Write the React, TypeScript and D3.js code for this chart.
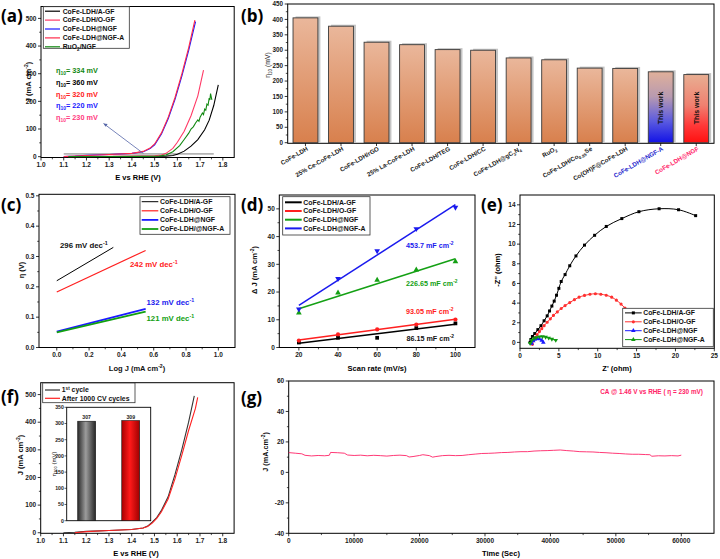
import React from 'react';
import * as d3 from 'd3';

const FONT = "'Liberation Sans', Arial, Helvetica, sans-serif";
const LFONT = "'Open Sans', 'Liberation Sans', sans-serif";

// ---------------- (a) LSV polarization ----------------
const aNames = ['CoFe-LDH/A-GF', 'CoFe-LDH/O-GF', 'CoFe-LDH@NGF', 'CoFe-LDH@NGF-A', 'RuO_{2}/NGF'];
const aColors = ['#000000', '#ff3a66', '#1a1aff', '#ff2a4a', '#118811'];
const aAGF = [[1.12, 0], [1.3, 0.5], [1.45, 1], [1.55, 2], [1.58, 4], [1.6, 9], [1.63, 20], [1.66, 38], [1.69, 62], [1.72, 97], [1.74, 132], [1.76, 185], [1.78, 260]];
const aOGF = [[1.12, 0], [1.3, 1], [1.45, 2], [1.5, 3], [1.53, 6], [1.55, 12], [1.58, 30], [1.6, 52], [1.63, 92], [1.66, 148], [1.69, 220], [1.715, 313]];
const aNGF = [[1.1, 0], [1.15, 2], [1.2, 5], [1.3, 8], [1.4, 12], [1.45, 18], [1.48, 29], [1.5, 43], [1.53, 82], [1.56, 138], [1.59, 208], [1.62, 292], [1.65, 385], [1.68, 488]];
const aNGFA = [[1.1, 0], [1.15, 2], [1.2, 4], [1.3, 8], [1.4, 12], [1.45, 19], [1.48, 31], [1.5, 46], [1.53, 86], [1.56, 143], [1.59, 215], [1.62, 300], [1.65, 395], [1.677, 494]];
const aRuO2 = [[1.12, 0], [1.3, 0.5], [1.45, 1], [1.52, 2], [1.55, 6], [1.58, 18], [1.61, 40], [1.63, 62], [1.65, 85], [1.66, 100], [1.67, 108], [1.68, 122], [1.69, 133], [1.695, 128], [1.7, 143], [1.71, 158], [1.715, 152], [1.72, 172], [1.725, 168], [1.73, 190], [1.735, 186], [1.74, 212], [1.743, 205], [1.746, 228], [1.75, 212], [1.752, 205]];
const aRefLine = [[1.1, 10], [1.76, 10]];
const aArrow = [[1.45, 12], [1.275, 120]];
const aEtaValues = ['334', '360', '320', '220', '230'];
const aEtaColors = ['#118811', '#000000', '#ff2020', '#1a1aff', '#ff3a80'];
const aXTicks = [1.0, 1.1, 1.2, 1.3, 1.4, 1.5, 1.6, 1.7, 1.8];
const aYTicks = [0, 100, 200, 300, 400, 500];

// ---------------- (b) comparison of overpotential ----------------
const bCats = ['CoFe-LDH', '25% Ce-CoFe-LDH', 'CoFe-LDH/rGO', '25% La-CoFe-LDH', 'CoFe-LDH/TEG', 'CoFe-LDH/CC', 'CoFe-LDH@gC_{3}N_{4}', 'RuO_{2}', 'CoFe-LDH/Co_{0.85}Se', 'Co(OH)F@CoFe-LDH', 'CoFe-LDH@NGF-A', 'CoFe-LDH@NGF'];
const bVals = [405, 378, 326, 318, 302, 300, 275, 269, 242, 241, 230, 221];
const bThisWork = [false, false, false, false, false, false, false, false, false, false, true, true];
const bYTicks = [0, 50, 100, 150, 200, 250, 300, 350, 400, 450];

// ---------------- (c) Tafel ----------------
const cNames = ['CoFe-LDH/A-GF', 'CoFe-LDH/O-GF', 'CoFe-LDH@NGF', 'CoFe-LDH/@NGF-A'];
const cColors = ['#000000', '#ff2020', '#1a1aff', '#11a011'];
const cAGF = [[0, 0.22], [0.35, 0.33]];
const cOGF = [[0, 0.183], [0.55, 0.32]];
const cNGF = [[0, 0.052], [0.55, 0.127]];
const cNGFA = [[0, 0.05], [0.55, 0.118]];
const cSlopes = ['296', '242', '132', '121'];
const cXTicks = [0.0, 0.2, 0.4, 0.6, 0.8, 1.0];
const cYTicks = [0.0, 0.1, 0.2, 0.3, 0.4, 0.5];

// ---------------- (d) double layer capacitance ----------------
const dNames = ['CoFe-LDH/A-GF', 'CoFe-LDH/O-GF', 'CoFe-LDH@NGF', 'CoFe-LDH@NGF-A'];
const dColors = ['#000000', '#ff2020', '#14a014', '#1a1aee'];
const dRates = [20, 40, 60, 80, 100];
const dAGF = [1.8, 3.5, 3.5, 7.0, 8.7];
const dOGF = [2.5, 4.7, 6.5, 8.3, 10.1];
const dNGF = [12.5, 19.7, 24.3, 28.0, 31.0];
const dNGFA = [13.8, 24.8, 34.8, 42.8, 50.5];
const dFitAGF = [[20, 1.5], [100, 8.4]];
const dFitOGF = [[20, 2.7], [100, 10.2]];
const dFitNGF = [[20, 14.0], [100, 32.0]];
const dFitNGFA = [[20, 15.2], [100, 51.5]];
const dCdl = ['86.15', '93.05', '226.65', '453.7'];
const dXTicks = [20, 40, 60, 80, 100];
const dYTicks = [0, 10, 20, 30, 40, 50];

// ---------------- (e) Nyquist ----------------
const eNames = ['CoFe-LDH/A-GF', 'CoFe-LDH/O-GF', 'CoFe-LDH@NGF', 'CoFe-LDH@NGF-A'];
const eColors = ['#000000', '#ff3030', '#1a1aff', '#119911'];
const eAGF = [[1.3, 0], [1.4, 0.3], [1.6, 0.6], [1.9, 0.9], [2.3, 1.3], [2.7, 1.7], [3.1, 2.2], [3.5, 2.7], [3.8, 3.2], [4.1, 3.7], [4.4, 4.2], [4.7, 4.8], [5.0, 5.5], [5.3, 6.2], [5.8, 6.9], [6.4, 7.8], [7.2, 8.8], [8.3, 9.9], [9.6, 10.9], [11.1, 11.8], [13.1, 12.6], [15.3, 13.3], [17.9, 13.6], [20.4, 13.5], [22.6, 12.9]];
const eOGF = [[1.6, -0.2], [1.75, 0.2], [1.95, 0.5], [2.2, 0.8], [2.5, 1.1], [2.8, 1.4], [3.1, 1.7], [3.5, 2.05], [3.9, 2.4], [4.3, 2.75], [4.8, 3.1], [5.3, 3.45], [5.8, 3.75], [6.4, 4.05], [7.0, 4.35], [7.6, 4.6], [8.3, 4.78], [9.0, 4.9], [9.7, 4.95], [10.4, 4.9], [11.1, 4.8], [11.8, 4.6], [12.4, 4.3], [13.0, 3.9], [13.5, 3.5], [14.0, 3.0]];
const eNGF = [[1.5, -0.1], [1.7, 0.15], [1.9, 0.3], [2.2, 0.38], [2.5, 0.35], [2.8, 0.2], [3.0, 0.0]];
const eNGFA = [[1.3, -0.1], [1.5, 0.2], [1.8, 0.4], [2.1, 0.5], [2.5, 0.58], [2.9, 0.6], [3.3, 0.55], [3.7, 0.45], [4.1, 0.33], [4.6, 0.22]];
const eXTicks = [0, 5, 10, 15, 20, 25];
const eYTicks = [0, 2, 4, 6, 8, 10, 12, 14];

// ---------------- (f) stability LSV ----------------
const fNames = ['1^{st} cycle', 'After 1000 CV cycles'];
const fColors = ['#333333', '#ff2020'];
const fFirst = [[1.1, 0], [1.15, 2], [1.2, 5], [1.3, 8], [1.4, 12], [1.45, 17], [1.47, 24], [1.49, 38], [1.51, 55], [1.53, 80], [1.56, 130], [1.59, 210], [1.62, 300], [1.65, 400], [1.675, 495]];
const fAfter = [[1.15, 0], [1.2, 4], [1.3, 8], [1.4, 12], [1.45, 17], [1.47, 23], [1.49, 35], [1.51, 52], [1.53, 75], [1.56, 122], [1.59, 195], [1.62, 280], [1.65, 370], [1.68, 450], [1.69, 490]];
const fInsetCats = ['1st', 'after'];
const fInsetVals = [307, 309];
const fXTicks = [1.0, 1.1, 1.2, 1.3, 1.4, 1.5, 1.6, 1.7, 1.8];
const fYTicks = [0, 100, 200, 300, 400, 500];
const fInsetYTicks = [0, 50, 100, 150, 200, 250, 300, 350];

// ---------------- (g) chronoamperometry ----------------
const gData = [[0, 13], [1000, 12.6], [2000, 12.2], [2500, 11.2], [3500, 10.8], [4500, 11.1], [5500, 10.9], [6200, 11.2], [6400, 13.1], [7500, 12.9], [8500, 12.6], [9000, 11.4], [10000, 11.1], [11000, 11.3], [12000, 10.9], [13000, 11.2], [14000, 11.0], [15000, 10.7], [16000, 11.1], [17000, 11.3], [18000, 11.0], [18400, 10.1], [19000, 10.4], [20000, 11.1], [20500, 11.6], [21500, 11.0], [22000, 10.0], [22500, 10.4], [23500, 11.0], [24500, 11.2], [25500, 11.0], [26500, 11.1], [27500, 11.6], [28500, 12.0], [29500, 12.4], [30500, 12.5], [31500, 12.7], [32500, 13.0], [33500, 13.1], [34500, 13.4], [35500, 13.6], [36500, 13.6], [37500, 14.0], [38500, 14.2], [39500, 14.3], [40500, 14.5], [41500, 14.7], [42500, 14.3], [43500, 14.0], [44500, 13.6], [45500, 13.5], [46500, 13.4], [47500, 13.1], [48500, 12.9], [49500, 12.6], [50500, 12.4], [51500, 12.1], [52500, 11.9], [53500, 11.9], [54500, 11.7], [55200, 11.6], [55500, 10.6], [56500, 10.9], [57500, 10.8], [58500, 11.0], [59500, 10.8], [60000, 11.3]];
const gXTicks = [0, 10000, 20000, 30000, 40000, 50000, 60000];
const gYTicks = [-40, -20, 0, 20, 40, 60];

// ---------------- helpers ----------------
function parseRich(s) {
  const parts = [];
  const re = /(_|\^)\{([^}]*)\}/g;
  let last = 0;
  let m;
  while ((m = re.exec(s))) {
    if (m.index > last) parts.push([s.slice(last, m.index), '']);
    parts.push([m[2], m[1] === '_' ? 'sub' : 'sup']);
    last = re.lastIndex;
  }
  if (last < s.length) parts.push([s.slice(last), '']);
  return parts;
}

function RT({ x, y, s, size = 7, anchor = 'start', fill = '#111', weight = 'bold', rotate = 0, family = FONT }) {
  const parts = parseRich(s);
  let shift = 0;
  const kids = parts.map(([t, k], i) => {
    const target = k === 'sup' ? -size * 0.38 : k === 'sub' ? size * 0.28 : 0;
    const dy = target - shift;
    shift = target;
    return (
      <tspan key={i} dy={dy} fontSize={k ? size * 0.68 : size}>
        {t}
      </tspan>
    );
  });
  return (
    <text x={x} y={y} fontSize={size} textAnchor={anchor} fill={fill} fontWeight={weight} fontFamily={family}
      transform={rotate ? `rotate(${rotate} ${x} ${y})` : undefined} style={{ whiteSpace: 'pre' }}>
      {kids}
    </text>
  );
}

const mids = (t) => t.slice(1).map((v, i) => (v + t[i]) / 2);

function Axes({ xs, ys, xt, yt, xf = (v) => String(v), yf = (v) => String(v), fs = 6.5, xMinor = true, yMinor = true, fill = 'none' }) {
  const [x0, x1] = xs.range();
  const [yb, ytp] = ys.range();
  const xm = xMinor ? mids(xt) : [];
  const ym = yMinor ? mids(yt) : [];
  return (
    <g>
      <rect x={x0} y={ytp} width={x1 - x0} height={yb - ytp} fill={fill} stroke="#000" strokeWidth={1} />
      {xt.map((t) => (
        <g key={'x' + t}>
          <line x1={xs(t)} x2={xs(t)} y1={yb} y2={yb + 3} stroke="#000" strokeWidth={0.8} />
          <text x={xs(t)} y={yb + 9.5} fontSize={fs} textAnchor="middle" fontWeight="bold" fill="#1a1a1a" fontFamily={FONT}>{xf(t)}</text>
        </g>
      ))}
      {xm.map((t) => (
        <line key={'xm' + t} x1={xs(t)} x2={xs(t)} y1={yb} y2={yb + 1.8} stroke="#000" strokeWidth={0.7} />
      ))}
      {yt.map((t) => (
        <g key={'y' + t}>
          <line x1={x0} x2={x0 - 3} y1={ys(t)} y2={ys(t)} stroke="#000" strokeWidth={0.8} />
          <text x={x0 - 4.5} y={ys(t) + fs * 0.35} fontSize={fs} textAnchor="end" fontWeight="bold" fill="#1a1a1a" fontFamily={FONT}>{yf(t)}</text>
        </g>
      ))}
      {ym.map((t) => (
        <line key={'ym' + t} x1={x0} x2={x0 - 1.8} y1={ys(t)} y2={ys(t)} stroke="#000" strokeWidth={0.7} />
      ))}
    </g>
  );
}

function Legend({ box, items, lx0, lx1, tx, ty0, step, fs = 7, lw = 1.2 }) {
  return (
    <g>
      <rect x={box[0]} y={box[1]} width={box[2] - box[0]} height={box[3] - box[1]} fill="#fff" stroke="#333" strokeWidth={0.8} />
      {items.map((it, i) => {
        const y = ty0 + i * step;
        return (
          <g key={i}>
            <line x1={lx0} x2={lx1} y1={y} y2={y} stroke={it.color} strokeWidth={it.lw || lw} />
            {it.marker ? <path d={it.marker} transform={`translate(${(lx0 + lx1) / 2},${y})`} fill={it.color} /> : null}
            <RT x={tx} y={y + fs * 0.35} s={it.name} size={fs} fill="#111" />
          </g>
        );
      })}
    </g>
  );
}

const sym = (type, size) => d3.symbol().type(type).size(size)();
const PanelLabel = ({ x, y, t }) => (
  <text x={x} y={y} fontSize={17} fontWeight="bold" fontFamily={LFONT} fill="#000">{t}</text>
);

export default function App() {
  const line = d3.line().curve(d3.curveMonotoneX);
  const lineC = d3.line().curve(d3.curveCatmullRom.alpha(0.5));
  const lineL = d3.line();

  // (a)
  const ax = d3.scaleLinear().domain([1.0, 1.85]).range([41, 234.2]);
  const ay = d3.scaleLinear().domain([-3, 543]).range([157.5, 6.5]);
  const aP = (d) => lineL(d.map(([u, v]) => [ax(u), ay(v)]));
  const aSeries = [aAGF, aOGF, aNGF, aNGFA, aRuO2];

  // (b)
  const bx = d3.scaleBand().domain(bCats).range([287.7, 714]).paddingInner(0.3).paddingOuter(0.15);
  const by = d3.scaleLinear().domain([0, 450]).range([142.7, 4]);

  // (c)
  const cx = d3.scaleLinear().domain([-0.11, 1.103]).range([39, 235]);
  const cy = d3.scaleLinear().domain([0, 0.505]).range([347.5, 194.3]);
  const cSeries = [cAGF, cOGF, cNGF, cNGFA];
  const cLw = [1, 1.2, 1.8, 1.8];

  // (d)
  const dx = d3.scaleLinear().domain([10, 110]).range([279.3, 475]);
  const dy = d3.scaleLinear().domain([0, 55]).range([347.5, 195]);
  const dSeries = [dAGF, dOGF, dNGF, dNGFA];
  const dFits = [dFitAGF, dFitOGF, dFitNGF, dFitNGFA];
  const dSyms = [sym(d3.symbolSquare, 14), sym(d3.symbolCircle, 14), sym(d3.symbolTriangle, 14), sym(d3.symbolTriangle, 14)];
  const dRot = [0, 0, 0, 180];

  // (e)
  const ex = d3.scaleLinear().domain([0, 25]).range([520, 714.3]);
  const ey = d3.scaleLinear().domain([-0.6, 15]).range([348.3, 195]);
  const eSeries = [eAGF, eOGF, eNGF, eNGFA];
  const eSyms = [sym(d3.symbolSquare, 9), sym(d3.symbolCircle, 8), sym(d3.symbolTriangle, 9), sym(d3.symbolTriangle, 9)];
  const eRot = [0, 0, 0, 180];

  // (f)
  const fx = d3.scaleLinear().domain([1.0, 1.85]).range([40.7, 234.1]);
  const fy = d3.scaleLinear().domain([-2, 543]).range([533.3, 382.7]);
  const fix = d3.scaleBand().domain(fInsetCats).range([66.7, 150.7]).paddingInner(0.593).paddingOuter(0.25);
  const fiy = d3.scaleLinear().domain([0, 350]).range([520.7, 407.3]);

  // (g)
  const gx = d3.scaleLinear().domain([0, 65000]).range([288.7, 714]);
  const gy = d3.scaleLinear().domain([-40, 60]).range([533.3, 381]);

  const fmt1 = (v) => v.toFixed(1);

  return (
    <svg width={720} height={559} style={{ position: 'absolute', left: 0, top: 0, background: '#fff' }} fontFamily={FONT}>
      <defs>
        <linearGradient id="gOr" x1="0" y1="0" x2="0" y2="1">
          <stop offset="0" stopColor="#eab79b" />
          <stop offset="1" stopColor="#d8804d" />
        </linearGradient>
        <linearGradient id="gBlue" x1="0" y1="0" x2="0" y2="1">
          <stop offset="0" stopColor="#e0b09a" />
          <stop offset="0.35" stopColor="#b89ab0" />
          <stop offset="0.7" stopColor="#5a5ae0" />
          <stop offset="1" stopColor="#1212e6" />
        </linearGradient>
        <linearGradient id="gRed" x1="0" y1="0" x2="0" y2="1">
          <stop offset="0" stopColor="#e8ae92" />
          <stop offset="0.45" stopColor="#f08070" />
          <stop offset="0.75" stopColor="#ff3838" />
          <stop offset="1" stopColor="#ff1010" />
        </linearGradient>
        <linearGradient id="gGray" x1="0" y1="0" x2="1" y2="0">
          <stop offset="0" stopColor="#2a2a2a" />
          <stop offset="0.45" stopColor="#9c9c9c" />
          <stop offset="1" stopColor="#262626" />
        </linearGradient>
        <linearGradient id="gRedH" x1="0" y1="0" x2="1" y2="0">
          <stop offset="0" stopColor="#a80000" />
          <stop offset="0.45" stopColor="#ff1a1a" />
          <stop offset="1" stopColor="#a00000" />
        </linearGradient>
        <clipPath id="clipA"><rect x={41} y={6.5} width={193.2} height={151} /></clipPath>
      </defs>

      {/* ================= (a) ================= */}
      <g>
        <Axes xs={ax} ys={ay} xt={aXTicks} yt={aYTicks} xf={fmt1} />
        <g clipPath="url(#clipA)">
          <path d={aP(aRefLine)} stroke="#b5b5b5" strokeWidth={1.6} fill="none" />
          {aSeries.map((s, i) => (
            <path key={i} d={aP(s)} stroke={aColors[i]} strokeWidth={1.1} fill="none" />
          ))}
        </g>
        <line x1={ax(aArrow[0][0])} y1={ay(aArrow[0][1])} x2={ax(aArrow[1][0])} y2={ay(aArrow[1][1])} stroke="#5566a8" strokeWidth={0.8} />
        <path d={`M${ax(aArrow[1][0])},${ay(aArrow[1][1])} l4.2,0.6 l-2.2,2.6 z`} fill="#5566a8" />
        {aEtaValues.map((v, i) => (
          <RT key={i} x={56} y={73 + i * 11.8} s={`η_{10}= ${v} mV`} size={7.3} fill={aEtaColors[i]} />
        ))}
        <Legend box={[43.3, 6.7, 129.3, 48.3]} items={aNames.map((n, i) => ({ name: n, color: aColors[i] }))} lx0={45} lx1={60} tx={62.7} ty0={11.2} step={8.9} fs={6.8} />
        <RT x={31} y={82} s="J (mA cm^{-2})" size={7.5} anchor="middle" rotate={-90} />
        <text x={138} y={180} fontSize={7.5} textAnchor="middle" fontWeight="bold">E vs RHE (V)</text>
        <PanelLabel x={1} y={22} t="(a)" />
      </g>

      {/* ================= (b) ================= */}
      <g>
        <rect x={287.7} y={4} width={426.3} height={139.3} fill="none" stroke="#000" strokeWidth={1} />
        {bYTicks.map((t) => (
          <g key={t}>
            <line x1={287.7} x2={284.7} y1={by(t)} y2={by(t)} stroke="#000" strokeWidth={0.8} />
            <text x={283} y={by(t) + 2.2} fontSize={6.3} textAnchor="end" fontWeight="bold" fill="#1a1a1a">{t}</text>
          </g>
        ))}
        {mids(bYTicks).map((t) => (
          <line key={'m' + t} x1={287.7} x2={285.8} y1={by(t)} y2={by(t)} stroke="#000" strokeWidth={0.7} />
        ))}
        {bCats.map((c, i) => {
          const x = bx(c);
          const w = bx.bandwidth();
          const y = by(bVals[i]);
          const h = by(0) - y;
          const grad = bThisWork[i] ? (i === 10 ? 'url(#gBlue)' : 'url(#gRed)') : 'url(#gOr)';
          const col = i === 10 ? '#2222cc' : i === 11 ? '#ff2266' : '#1a1a1a';
          const cx0 = x + w / 2;
          return (
            <g key={c}>
              <rect x={x + 2.5} y={y - 1.5} width={w} height={h + 1.5} fill="#c4c4c4" />
              <rect x={x} y={y} width={w} height={h} fill={grad} stroke="#3a3a3a" strokeWidth={0.9} />
              <line x1={cx0} x2={cx0} y1={143.3} y2={146} stroke="#000" strokeWidth={0.8} />
              {bThisWork[i] ? <RT x={cx0 + 2.3} y={108} s="This work" size={7} anchor="middle" rotate={-90} fill="#111" /> : null}
              <RT x={cx0 + 3} y={150} s={c} size={6.2} anchor="end" rotate={-30} fill={col} />
            </g>
          );
        })}
        <RT x={270} y={65} s="η_{10} (mV)" size={6.8} anchor="middle" rotate={-90} weight="normal" />
        <PanelLabel x={241} y={22} t="(b)" />
      </g>

      {/* ================= (c) ================= */}
      <g>
        <Axes xs={cx} ys={cy} xt={cXTicks} yt={cYTicks} xf={fmt1} yf={fmt1} />
        {cSeries.map((s, i) => (
          <path key={i} d={lineL(s.map(([u, v]) => [cx(u), cy(v)]))} stroke={cColors[i]} strokeWidth={cLw[i]} fill="none" />
        ))}
        <RT x={60} y={248} s={`${cSlopes[0]} mV dec^{-1}`} size={7.8} fill="#111" />
        <RT x={130} y={266.5} s={`${cSlopes[1]} mV dec^{-1}`} size={7.8} fill="#ff2020" />
        <RT x={146.5} y={304.5} s={`${cSlopes[2]} mV dec^{-1}`} size={7.8} fill="#1a1aee" />
        <RT x={146.5} y={321} s={`${cSlopes[3]} mV dec^{-1}`} size={7.8} fill="#11a011" />
        <Legend box={[140, 196.7, 230, 234.3]} items={cNames.map((n, i) => ({ name: n, color: cColors[i], lw: cLw[i] }))} lx0={141.7} lx1={158.3} tx={160} ty0={201.7} step={9.1} fs={6.9} />
        <RT x={24} y={270} s="η (V)" size={7.5} anchor="middle" rotate={-90} />
        <RT x={137} y={371} s="Log J (mA cm^{-2})" size={7.5} anchor="middle" />
        <PanelLabel x={1} y={211} t="(c)" />
      </g>

      {/* ================= (d) ================= */}
      <g>
        <Axes xs={dx} ys={dy} xt={dXTicks} yt={dYTicks} />
        {dFits.map((f, i) => (
          <path key={'f' + i} d={lineL(f.map(([u, v]) => [dx(u), dy(v)]))} stroke={dColors[i]} strokeWidth={1.5} fill="none" />
        ))}
        {dSeries.map((s, i) =>
          s.map((v, j) => (
            <path key={i + '-' + j} d={dSyms[i]} transform={`translate(${dx(dRates[j])},${dy(v)}) rotate(${dRot[i]})`} fill={dColors[i]} />
          ))
        )}
        <RT x={406} y={248} s={`${dCdl[3]} mF cm^{-2}`} size={7.2} fill="#1a1aee" />
        <RT x={406} y={286} s={`${dCdl[2]} mF cm^{-2}`} size={7.2} fill="#14a014" />
        <RT x={406} y={313.5} s={`${dCdl[1]} mF cm^{-2}`} size={7.2} fill="#ff2020" />
        <RT x={406.5} y={341} s={`${dCdl[0]} mF cm^{-2}`} size={7.2} fill="#111" />
        <Legend box={[282.7, 196.7, 370, 235]} items={dNames.map((n, i) => ({ name: n, color: dColors[i] }))} lx0={285} lx1={301.7} tx={303.3} ty0={202.3} step={8.7} fs={6.9} lw={2} />
        <RT x={257} y={270} s="Δ J (mA cm^{-2})" size={7.5} anchor="middle" rotate={-90} />
        <text x={377} y={371} fontSize={7.5} textAnchor="middle" fontWeight="bold">Scan rate (mV/s)</text>
        <PanelLabel x={241} y={211} t="(d)" />
      </g>

      {/* ================= (e) ================= */}
      <g>
        <Axes xs={ex} ys={ey} xt={eXTicks} yt={eYTicks} />
        {eSeries.map((s, i) => (
          <g key={i}>
            <path d={lineC(s.map(([u, v]) => [ex(u), ey(v)]))} stroke={eColors[i]} strokeWidth={1} fill="none" />
            {s.map(([u, v], j) => (
              <path key={j} d={eSyms[i]} transform={`translate(${ex(u)},${ey(v)}) rotate(${eRot[i]})`} fill={eColors[i]} />
            ))}
          </g>
        ))}
        <Legend box={[622.7, 308.3, 713.3, 346.7]} items={eNames.map((n, i) => ({ name: n, color: eColors[i], marker: eSyms[i] }))} lx0={625} lx1={641.7} tx={643.3} ty0={312.9} step={8.9} fs={6.8} lw={1} />
        <text x={500} y={270} fontSize={7.5} textAnchor="middle" fontWeight="bold" transform="rotate(-90 500 270)">-Z'' (ohm)</text>
        <text x={617} y={371} fontSize={7.5} textAnchor="middle" fontWeight="bold">Z' (ohm)</text>
        <PanelLabel x={481} y={211} t="(e)" />
      </g>

      {/* ================= (f) ================= */}
      <g>
        <Axes xs={fx} ys={fy} xt={fXTicks} yt={fYTicks} xf={fmt1} />
        <path d={lineL(fFirst.map(([u, v]) => [fx(u), fy(v)]))} stroke={fColors[0]} strokeWidth={1.1} fill="none" />
        <path d={lineL(fAfter.map(([u, v]) => [fx(u), fy(v)]))} stroke={fColors[1]} strokeWidth={1.1} fill="none" />
        {/* inset */}
        <rect x={66.7} y={407.3} width={84} height={113.4} fill="#fff" stroke="#000" strokeWidth={0.9} />
        {fInsetYTicks.map((t) => (
          <g key={t}>
            <line x1={66.7} x2={64.5} y1={fiy(t)} y2={fiy(t)} stroke="#000" strokeWidth={0.6} />
            <text x={63.8} y={fiy(t) + 1.8} fontSize={5.2} textAnchor="end" fontWeight="bold" fill="#1a1a1a">{t}</text>
          </g>
        ))}
        {fInsetCats.map((c, i) => (
          <g key={c}>
            <rect x={fix(c)} y={fiy(fInsetVals[i])} width={fix.bandwidth()} height={fiy(0) - fiy(fInsetVals[i])} fill={i === 0 ? 'url(#gGray)' : 'url(#gRedH)'} stroke="#111" strokeWidth={0.6} />
            <text x={fix(c) + fix.bandwidth() / 2} y={fiy(fInsetVals[i]) - 1.8} fontSize={5.2} textAnchor="middle" fontWeight="bold" fill="#222">{fInsetVals[i]}</text>
          </g>
        ))}
        <RT x={55.5} y={464} s="η_{100} (mV)" size={6} anchor="middle" rotate={-90} weight="normal" />
        <Legend box={[42.7, 383, 135, 402.7]} items={fNames.map((n, i) => ({ name: n, color: fColors[i] }))} lx0={45} lx1={60} tx={61.7} ty0={390} step={8.3} fs={6.9} />
        <RT x={23} y={455} s="J (mA cm^{-2})" size={7.5} anchor="middle" rotate={-90} />
        <text x={136} y={556} fontSize={7.5} textAnchor="middle" fontWeight="bold">E vs RHE (V)</text>
        <PanelLabel x={1} y={403} t="(f)" />
      </g>

      {/* ================= (g) ================= */}
      <g>
        <Axes xs={gx} ys={gy} xt={gXTicks} yt={gYTicks} />
        <path d={lineL(gData.map(([u, v]) => [gx(u), gy(v)]))} stroke="#ff2266" strokeWidth={0.9} fill="none" />
        <RT x={703} y={394} s="CA @ 1.46 V vs RHE ( η = 230 mV)" size={6.4} anchor="end" fill="#ff2266" />
        <RT x={268} y={452} s="J (mA.cm^{-2})" size={7.3} anchor="middle" rotate={-90} />
        <text x={501} y={556} fontSize={7.5} textAnchor="middle" fontWeight="bold">Time (Sec)</text>
        <PanelLabel x={241} y={404} t="(g)" />
      </g>
    </svg>
  );
}
